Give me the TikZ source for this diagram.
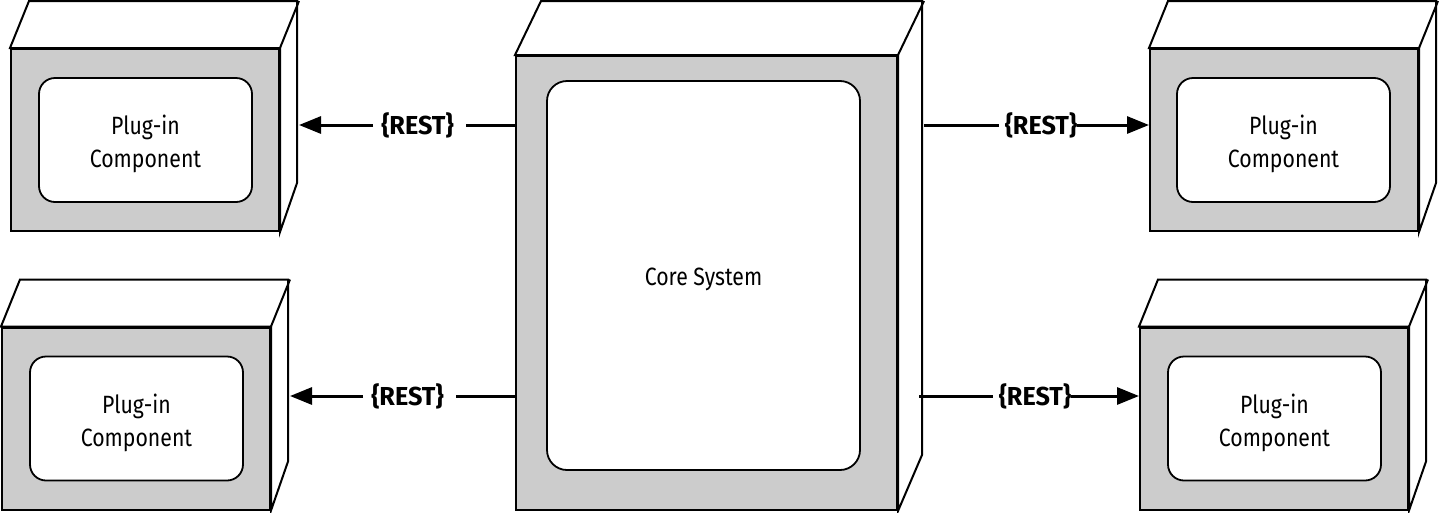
\documentclass[tikz,border=0pt]{standalone}
\usepackage{fontspec}
\setmainfont[FakeStretch=0.85]{Fira Sans}
\newfontfamily\restfont[FakeStretch=0.97]{Fira Sans}
\usetikzlibrary{arrows.meta,calc}
\begin{document}
\begin{tikzpicture}[x=1pt,y=-1pt,
  front/.style={draw=black, line width=2pt, fill=black!20, inner sep=0pt},
  inner/.style={draw=black, line width=1.8pt, fill=white, rounded corners=16pt, inner sep=0pt},
  txt/.style={inner sep=0pt, align=center, font=\fontsize{25}{33}\selectfont},
  face/.style={draw=black, line width=2pt, fill=white, line join=miter},
  lbl/.style={inner sep=0pt, font=\restfont\bfseries\fontsize{26}{30}\selectfont},
  link/.style={draw=black, line width=3pt},
  arr/.style={draw=black, line width=3pt, -{Triangle[length=22pt,width=17pt]}}
]
\useasboundingbox (0,0) rectangle (1440,512);

% Core system
\node[front, minimum width=381, minimum height=454] (core) at (706.5,283) {};
\draw[face] (core.north west) -- ++(26,-54) -- ++(381,0) -- ++(0,454) -- (core.south east) -- (core.north east) -- cycle;
\draw[face] (core.north east) -- ++(26,-54);
\coordinate (cb) at ($(core.north east)+(26,-54)$);
\node[inner, rounded corners=20pt, minimum width=313, minimum height=389] (corein) at (703.5,275.5) {};
\node[txt] (coretxt) at (703.5,279.5) {Core System};

% Plug-in boxes
\foreach \n/\x/\y/\ix/\iy in {p1/145/140/145.5/140, p2/136/418.5/136.5/418.5, p3/1284/140/1283.5/140, p4/1274/418.5/1274.5/418.5}{
  \node[front, minimum width=268, minimum height=182] (\n) at (\x,\y) {};
  \draw[face] (\n.north west) -- ++(19,-47) -- ++(268,0) -- ++(0,182) -- (\n.south east) -- (\n.north east) -- cycle;
  \draw[face] (\n.north east) -- ++(19,-47);
  \coordinate (\n b) at ($(\n.north east)+(19,-47)$);
  \node[inner, minimum width=213, minimum height=124] (\n in) at (\ix,\iy) {};
  \node[txt] (\n txt) at ($(\n in.center)+(0,4)$) {Plug-in\\Component};
}

% Labels
\node[lbl] (r1) at (417.5,125) {\{REST\}};
\node[lbl] (r2) at (407.5,396) {\{REST\}};
\node[lbl] (r3) at (1041,125) {\{REST\}};
\node[lbl] (r4) at (1035,396) {\{REST\}};

% Connectors
\draw[link, shorten >=12pt] (core.west |- r1) -- (r1.east);
\draw[arr, shorten <=8pt] (r1.west) -- (p1b |- r1);
\draw[link, shorten >=12pt] (core.west |- r2) -- (r2.east);
\draw[arr, shorten <=8pt] (r2.west) -- (p2b |- r2);
\draw[link, shorten >=6pt] (cb |- r3) -- (r3.west);
\draw[arr, shorten <=0pt] (r3.east) -- (p3.west |- r3);
\draw[link, shorten >=6pt, shorten <=-5pt] (cb |- r4) -- (r4.west);
\draw[arr, shorten <=0pt] (r4.east) -- (p4.west |- r4);
\end{tikzpicture}
\end{document}
